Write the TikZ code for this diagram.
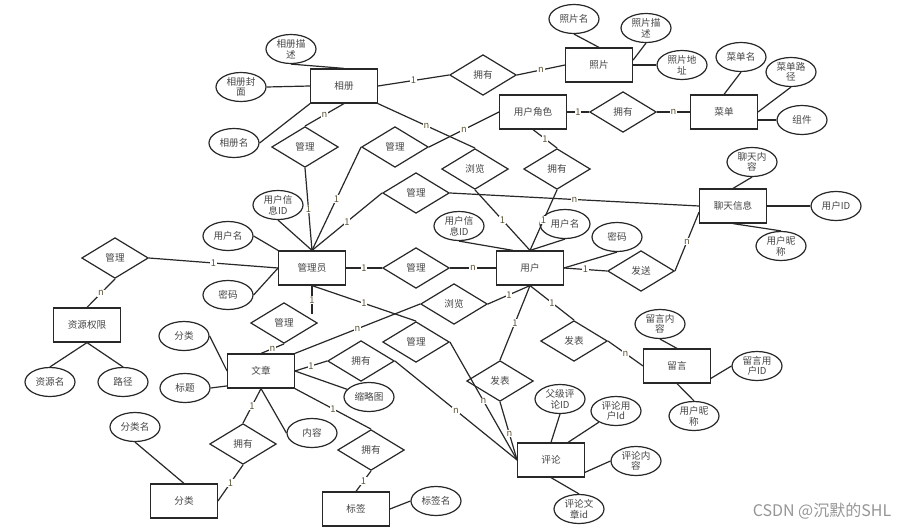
\documentclass[tikz,border=0pt]{standalone}
\usepackage{fontspec}
\newfontfamily\cjk{Noto Sans CJK SC}
\usetikzlibrary{shapes.geometric,calc}
\definecolor{ln}{RGB}{40,40,40}
\definecolor{tx}{RGB}{70,70,70}
\definecolor{lb}{RGB}{95,85,55}
\definecolor{wm}{RGB}{150,150,150}
\begin{document}
\begin{tikzpicture}[x=0.75pt,y=-0.75pt,
  ent/.style={draw=ln,line width=0.9pt,rectangle,fill=white,minimum width=50pt,minimum height=25.5pt,inner sep=0pt,font=\cjk\fontsize{7.2}{8}\selectfont,text=tx},
  rel/.style={draw=ln,line width=0.9pt,diamond,fill=white,minimum width=50pt,minimum height=30.5pt,inner sep=0pt,font=\cjk\fontsize{7.2}{8}\selectfont,text=tx},
  att/.style={draw=ln,line width=0.9pt,ellipse,fill=white,minimum width=37.5pt,minimum height=21.75pt,inner sep=0pt,align=center,font=\cjk\fontsize{7.2}{8}\selectfont,text=tx},
  con/.style={draw=ln,line width=0.9pt},
  lab/.style={fill=white,inner sep=0.6pt,font=\cjk\fontsize{7}{7}\selectfont,text=lb}]
\useasboundingbox (0,0) rectangle (912,528);
\fill[white] (0,0) rectangle (912,528);
% entities
\node[ent] (xc) at (344,86) {相册};
\node[ent] (zp) at (599,65) {照片};
\node[ent] (js) at (533,112) {用户角色};
\node[ent] (cd) at (724,112) {菜单};
\node[ent] (lt) at (733,206) {聊天信息};
\node[ent] (yh) at (530,268) {用户};
\node[ent] (gly) at (312,268) {管理员};
\node[ent] (zy) at (87,325) {资源权限};
\node[ent] (wz) at (261,371) {文章};
\node[ent] (fl) at (184,501) {分类};
\node[ent] (bq) at (356,509) {标签};
\node[ent] (ly) at (677,366) {留言};
\node[ent] (pl) at (551,460) {评论};
% relationships
\node[rel] (r1) at (483,75) {拥有};
\node[rel] (r2) at (623,112) {拥有};
\node[rel] (r3) at (557,169) {拥有};
\node[rel] (r4) at (475,169) {浏览};
\node[rel] (r5) at (305,147) {管理};
\node[rel] (r6) at (395,147) {管理};
\node[rel] (r7) at (416,193) {管理};
\node[rel] (r8) at (416,268) {管理};
\node[rel] (r9) at (115,258) {管理};
\node[rel] (r10) at (284,323) {管理};
\node[rel] (r11) at (454,304) {浏览};
\node[rel] (r12) at (416,342) {管理};
\node[rel] (r13) at (361,361) {拥有};
\node[rel] (r14) at (500,381) {发表};
\node[rel] (r15) at (574,341) {发表};
\node[rel] (r16) at (641,271) {发送};
\node[rel] (r17) at (243,444) {拥有};
\node[rel] (r18) at (371,450) {拥有};
% attributes
\node[att] (a1) at (291,49) {相册描\\述};
\node[att] (a2) at (241,87) {相册封\\面};
\node[att] (a3) at (234,143) {相册名};
\node[att] (a4) at (574,19) {照片名};
\node[att] (a5) at (646,28) {照片描\\述};
\node[att] (a6) at (682,65) {照片地\\址};
\node[att] (a7) at (741,57) {菜单名};
\node[att] (a8) at (791,72) {菜单路\\径};
\node[att] (a9) at (802,120) {组件};
\node[att] (a10) at (752,162) {聊天内\\容};
\node[att] (a11) at (836,206) {用户ID};
\node[att] (a12) at (781,246) {用户昵\\称};
\node[att] (a13) at (278,205) {用户信\\息ID};
\node[att] (a14) at (228,236) {用户名};
\node[att] (a15) at (228,295) {密码};
\node[att] (a16) at (459,226) {用户信\\息ID};
\node[att] (a17) at (565,224) {用户名};
\node[att] (a18) at (617,237) {密码};
\node[att] (a19) at (50,382) {资源名};
\node[att] (a20) at (123,382) {路径};
\node[att] (a21) at (184,336) {分类};
\node[att] (a22) at (185,388) {标题};
\node[att] (a23) at (369,397) {缩略图};
\node[att] (a24) at (312,433) {内容};
\node[att] (a25) at (135,427) {分类名};
\node[att] (a26) at (436,501) {标签名};
\node[att] (a27) at (660,324) {留言内\\容};
\node[att] (a28) at (757,366) {留言用\\户ID};
\node[att] (a29) at (694,416) {用户昵\\称};
\node[att] (a30) at (560,399) {父级评\\论ID};
\node[att] (a31) at (616,411) {评论用\\户Id};
\node[att] (a32) at (636,461) {评论内\\容};
\node[att] (a33) at (579,509) {评论文\\章id};
% attribute lines
\draw[con] (a1.south) -- (xc.north);
\draw[con] (a2.east) -- (xc.west);
\draw[con] (a3.east) -- (xc.south west);
\draw[con] (a4.south) -- (zp.north);
\draw[con] (a5.south) -- (zp.8);
\draw[con] (a6.west) -- (zp.east);
\draw[con] (a7.south) -- (cd.north);
\draw[con] (a8.south) -- (cd.east);
\draw[con] (a9.west) -- (a9.west -| cd.east);
\draw[con] (a10.south) -- (lt.north);
\draw[con] (a11.west) -- (lt.east);
\draw[con] (a12.north) -- (lt.south);
\draw[con] (a13.south) -- (gly.north);
\draw[con] (a14.east) -- (gly.north west);
\draw[con] (a15.east) -- (gly.west);
\draw[con] (a16.south) -- ($(yh.north west)!0.5!(yh.north)$);
\draw[con] (a17.south) -- (yh.north);
\draw[con] (a18.south) -- (yh.east);
\draw[con] (zy.south) -- (a19.north);
\draw[con] (zy.south) -- (a20.north);
\draw[con] (a21.east) -- (wz.west);
\draw[con] (a22.east) -- ([yshift=2pt]wz.south west);
\draw[con] (wz.east) -- (a23);
\draw[con] (wz.south) -- (a24.west);
\draw[con] (a25.south) -- (fl.north);
\draw[con] (a26.west) -- (bq.east);
\draw[con] (a27.south) -- (ly.north);
\draw[con] (a28.west) -- (ly.-20);
\draw[con] (a29.north) -- (ly.south);
\draw[con] (a30.south) -- (pl.north);
\draw[con] (a31) -- ($(pl.north)!0.5!(pl.north east)$);
\draw[con] (a32.west) -- (pl.-20);
\draw[con] (a33.north) -- (pl.south);
% relationship lines
\draw[con] (xc.east) -- node[lab]{1} (r1.west);
\draw[con] (r1.east) -- node[lab]{n} (zp.west);
\draw[con] (xc.south) -- node[lab]{n} (r5.north);
\draw[con] (r5.south) -- node[lab]{1} (gly.north);
\draw[con] (xc.south east) -- node[lab]{n} (r4.north);
\draw[con] (r4.south) -- node[lab]{1} (yh.north);
\draw[con] (r6.west) -- node[lab]{1} (gly.north);
\draw[con] (r6.east) -- node[lab]{n} (js.west);
\draw[con] (r7.west) -- node[lab]{1} (gly.north);
\draw[con] (r7.east) -- node[lab]{n} (lt.west);
\draw[con] (js.east) -- node[lab]{1} (r2.west);
\draw[con] (r2.east) -- node[lab]{n} (cd.west);
\draw[con] (js.south) -- node[lab]{1} (r3.north);
\draw[con] (r3.south) -- node[lab]{1} (yh.north);
\draw[con] (r9.east) -- node[lab]{1} (gly.west);
\draw[con] (r9.south) -- node[lab]{n} (zy.north);
\draw[con] (gly.east) -- node[lab]{1} (r8.west);
\draw[con] (r8.east) -- node[lab]{n} (yh.west);
\draw[con] (yh.east) -- node[lab]{1} (r16.west);
\draw[con] (r16.east) -- node[lab]{n} (lt.190);
\coordinate (c1) at (312,314);
\draw[con] (gly.south) -- node[lab]{1} (c1);
\draw[con] (r10.south) -- node[lab]{n} (wz.north);
\draw[con] (gly.south) -- node[lab]{1} (r12.north);
\draw[con] (r12.east) -- node[lab]{n} (pl.west);
\draw[con] (yh.south) -- node[lab]{1} (r11.east);
\draw[con] (r11.west) -- node[lab]{n} (wz.north east);
\draw[con] (yh.south) -- node[lab]{1} (r15.north);
\draw[con] (r15.east) -- node[lab]{n} (ly.west);
\draw[con] (yh.south) -- node[lab]{1} (r14.north);
\draw[con] (r14.south) -- node[lab,pos=0.55]{n} (pl.west);
\draw[con] (wz.east) -- node[lab]{1} (r13.west);
\draw[con] (r13.east) -- node[lab]{n} (pl.west);
\draw[con] (wz.south east) -- node[lab]{1} (r18.north);
\draw[con] (r18.south) -- node[lab]{1} (bq.north);
\draw[con] (wz.south) -- node[lab]{1} (r17.north);
\draw[con] (r17.south) -- node[lab]{1} (fl.east);
% watermark
\node[font=\cjk\fontsize{12}{12}\selectfont,text=wm,inner sep=0pt] (wmk) at (822,511) {CSDN @沉默的SHL};
\end{tikzpicture}
\end{document}
